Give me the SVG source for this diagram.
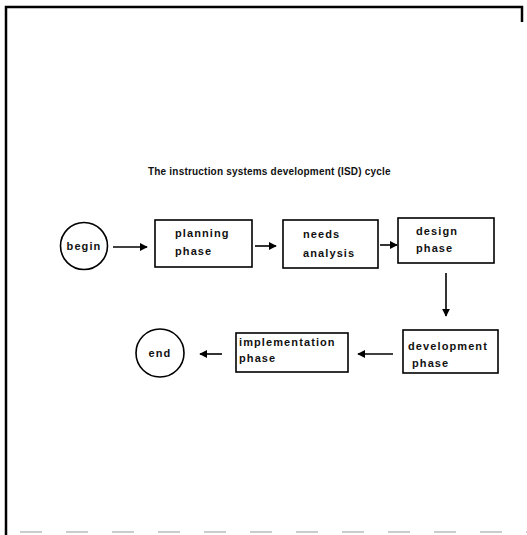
<svg xmlns="http://www.w3.org/2000/svg" width="527" height="535" viewBox="0 0 527 535">
<style>
.frame{stroke:#000;stroke-width:2.5;fill:none}
.node{fill:#fff;stroke:#000;stroke-width:1.6}
.lbl{font-family:"Liberation Sans",Arial,sans-serif;font-weight:bold;font-size:11px;letter-spacing:1.1px;fill:#111}
.title{font-family:"Liberation Sans",Arial,sans-serif;font-weight:bold;font-size:10px;letter-spacing:0.2px;fill:#111}
.conn{stroke:#000;stroke-width:1.6;fill:none}
</style>
<defs>
<marker id="ah" viewBox="0 0 10 10" refX="9" refY="5" markerWidth="5" markerHeight="5" orient="auto">
<path d="M0,0 L10,5 L0,10 z" fill="#000"/>
</marker>
</defs>
<rect width="527" height="535" fill="#fff"/>
<g id="frame">
<path class="frame" d="M6,535 L6,7 L522,7 L522,22"/>
<line x1="20" y1="532" x2="527" y2="532" stroke="#ccc" stroke-width="2" stroke-dasharray="22,24"/>
</g>
<text class="title" x="148" y="175">The instruction systems development  (ISD) cycle</text>
<g id="begin">
<circle class="node" cx="84" cy="246" r="23.5"/>
<text class="lbl" x="84" y="250" text-anchor="middle">begin</text>
</g>
<g id="planning">
<rect class="node" x="155" y="220" width="97" height="47"/>
<text class="lbl" x="175" y="237">planning</text>
<text class="lbl" x="175" y="255">phase</text>
</g>
<g id="needs">
<rect class="node" x="283" y="220" width="95" height="48"/>
<text class="lbl" x="303" y="238">needs</text>
<text class="lbl" x="303" y="257">analysis</text>
</g>
<g id="design">
<rect class="node" x="398" y="218" width="96" height="45"/>
<text class="lbl" x="416" y="235">design</text>
<text class="lbl" x="416" y="252">phase</text>
</g>
<g id="development">
<rect class="node" x="403" y="330" width="95" height="43"/>
<text class="lbl" x="408" y="350">development</text>
<text class="lbl" x="412" y="367">phase</text>
</g>
<g id="implementation">
<rect class="node" x="236" y="333" width="112" height="39"/>
<text class="lbl" x="239" y="346">implementation</text>
<text class="lbl" x="239" y="362">phase</text>
</g>
<g id="end">
<circle class="node" cx="160" cy="353" r="24"/>
<text class="lbl" x="160" y="357" text-anchor="middle">end</text>
</g>
<g id="connectors">
<line class="conn" x1="113" y1="247" x2="147" y2="247" marker-end="url(#ah)"/>
<line class="conn" x1="255" y1="246" x2="276" y2="246" marker-end="url(#ah)"/>
<line class="conn" x1="380" y1="245" x2="397" y2="245" marker-end="url(#ah)"/>
<line class="conn" x1="446" y1="273" x2="446" y2="316" marker-end="url(#ah)"/>
<line class="conn" x1="393" y1="354" x2="358" y2="354" marker-end="url(#ah)"/>
<line class="conn" x1="222" y1="354" x2="200" y2="354" marker-end="url(#ah)"/>
</g>
</svg>
